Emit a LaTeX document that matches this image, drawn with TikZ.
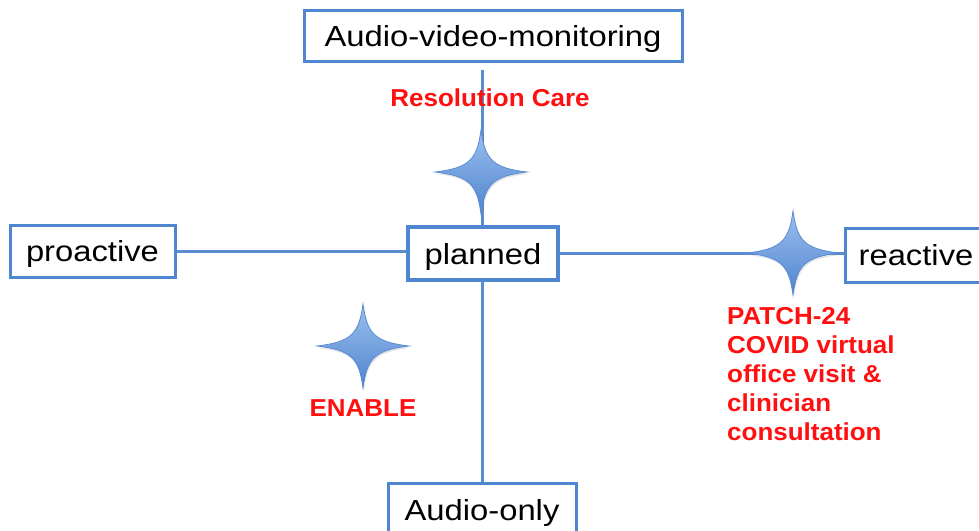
\documentclass[tikz,border=0pt]{standalone}
\usepackage{fontspec}
\setmainfont{Liberation Sans}
\newfontfamily\boxfont[FakeStretch=1.13]{Liberation Sans}
\newfontfamily\redfont[FakeStretch=1.06]{Liberation Sans}
\usetikzlibrary{shadows}
\definecolor{boxblue}{HTML}{4F86D0}
\definecolor{linblue}{HTML}{5B8CD2}
\definecolor{starlight}{HTML}{9CC0EE}
\definecolor{stardark}{HTML}{4F84CF}
\definecolor{staredge}{HTML}{5A8BD3}
\definecolor{redtext}{HTML}{FF0F0F}
\tikzset{
  box/.style={draw=boxblue, line width=3pt, fill=white, inner sep=0pt,
     font=\boxfont\fontsize{29}{32}\selectfont, text=black, text height=24pt, text depth=3pt},
  conn/.style={draw=linblue, line width=3pt},
  redlab/.style={text=redtext, font=\redfont\bfseries\fontsize{24.5}{29}\selectfont, inner sep=0pt},
  starfill/.style={top color=starlight, bottom color=stardark, draw=staredge, line width=0.8pt,
     drop shadow={opacity=0.22, shadow xshift=1pt, shadow yshift=-2pt}}
}
\newcommand{\fourstar}[3]{% center x, center y, name
  \path[starfill] (#1+46,#2) .. controls (#1+12,#2+4) and (#1+4,#2+12) .. (#1,#2+42)
     .. controls (#1-4,#2+12) and (#1-12,#2+4) .. (#1-46,#2)
     .. controls (#1-12,#2-4) and (#1-4,#2-12) .. (#1,#2-42)
     .. controls (#1+4,#2-12) and (#1+12,#2-4) .. cycle;
  \coordinate (#3) at (#1,#2);
}
\begin{document}
\begin{tikzpicture}[x=1pt,y=-1pt]
\useasboundingbox (0,0) rectangle (979,530);
\clip (0,0) rectangle (979,530);
% boxes
\node[box, minimum width=378pt, minimum height=51pt] (avm) at (493,35.5) {Audio-video-monitoring};
\node[box, minimum width=165pt, minimum height=52pt] (pro) at (92.5,251) {proactive};
\node[box, minimum width=142pt, minimum height=54pt] (rea) at (916,255) {reactive};
\node[box, minimum width=188pt, minimum height=54pt] (aud) at (482,510) {Audio-only};
\coordinate (vtop) at (482,70);
% connectors
\draw[conn] (vtop) -- (482,227);
\draw[conn] (pro.east) -- (408,251);
\draw[conn] (558,253) -- (rea.west |- 558,253);
\draw[conn] (aud.north -| 482,0) -- (482,280);
% planned box on top of the lines
\node[box, line width=4.5pt, minimum width=150pt, minimum height=53pt] (plan) at (483,253.5) {planned};
% stars
\fourstar{481}{172}{s1}
\fourstar{793}{253}{s2}
\fourstar{363}{346}{s3}
% red labels
\node[redlab] (rc) at (490,98) {Resolution Care};
\node[redlab] (en) at (363,408.5) {ENABLE};
\node[redlab, anchor=north west, align=left] (patch) at (727,307) {PATCH-24\\COVID virtual\\office visit \&\\clinician\\consultation};
\end{tikzpicture}
\end{document}
